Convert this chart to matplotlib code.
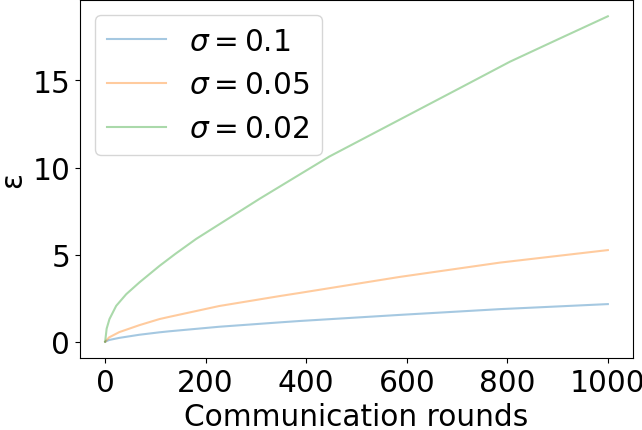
import matplotlib
matplotlib.use("Agg")
import matplotlib.pyplot as plt

rounds_green = [0, 3, 8.6, 22, 42, 68, 108, 140, 181, 307, 446, 705, 805, 904, 1000]
eps_green = [0, 0.75, 1.30, 2.06, 2.73, 3.40, 4.35, 5.05, 5.90, 8.20, 10.63, 14.55, 16.07, 17.40, 18.68]

rounds_orange = [0, 8, 28, 68, 108, 128, 227, 347, 387, 586, 785, 1000]
eps_orange = [0, 0.25, 0.55, 0.95, 1.30, 1.43, 2.05, 2.62, 2.80, 3.72, 4.54, 5.26]

rounds_blue = [0, 8, 28, 68, 108, 128, 227, 347, 387, 586, 785, 1000]
eps_blue = [0, 0.10, 0.22, 0.40, 0.54, 0.60, 0.86, 1.11, 1.19, 1.54, 1.87, 2.16]

labels = [r"$\sigma = 0.1$", r"$\sigma = 0.05$", r"$\sigma = 0.02$"]

plt.rcParams['font.size'] = 21.3
fig = plt.figure(figsize=(6.42, 4.31), dpi=100)
ax = fig.add_axes([80/642, 1 - 359/431, 553/642, 358/431])

ax.plot(rounds_blue, eps_blue, color='tab:blue', alpha=0.4, label=labels[0])
ax.plot(rounds_orange, eps_orange, color='tab:orange', alpha=0.4, label=labels[1])
ax.plot(rounds_green, eps_green, color='tab:green', alpha=0.4, label=labels[2])

ax.set_xlabel("Communication rounds")
ax.set_ylabel("ε")
ax.set_xticks([0, 200, 400, 600, 800, 1000])
ax.set_yticks([0, 5, 10, 15])
ax.legend(loc='upper left')

fig.savefig("out.png", dpi=100)
